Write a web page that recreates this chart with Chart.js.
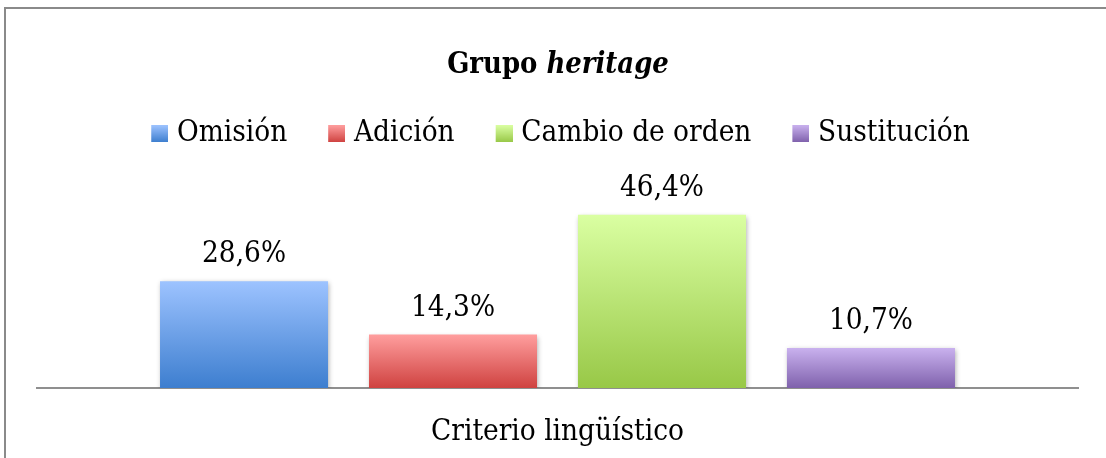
<!DOCTYPE html>
<html><head><meta charset="utf-8">
<script src="https://cdn.jsdelivr.net/npm/chart.js@4"></script>
<style>html,body{margin:0;padding:0;background:#fff}#wrap{width:1106px;height:458px;position:relative}canvas{display:block}</style>
</head><body><div id="wrap"><canvas id="c" width="1106" height="458"></canvas></div>
<script>
// ---- data ----
const categories = ['Criterio lingüístico'];
const seriesNames = ['Omisión', 'Adición', 'Cambio de orden', 'Sustitución'];
const omision = [28.6];
const adicion = [14.3];
const cambioDeOrden = [46.4];
const sustitucion = [10.7];
const titleMain = 'Grupo ';
const titleItalic = 'heritage';
const yMin = 0;
const yMax = 61.5;

// ---- styles ----
const gradients = [
  ['#9DC3FF', '#3D7ECF'],
  ['#FF9E9E', '#CF4240'],
  ['#DAFFA2', '#98C847'],
  ['#C9B1EE', '#7F61AC']
];

function hasFont(name) {
  const c = document.createElement('canvas').getContext('2d');
  c.font = '40px monospace';
  const a = c.measureText('Omisión Cambio de orden').width;
  c.font = '40px "' + name + '", monospace';
  const b = c.measureText('Omisión Cambio de orden').width;
  return Math.abs(a - b) > 0.5;
}
const COND = hasFont('DejaVu Serif Condensed');
const F = COND ? '"DejaVu Serif Condensed", "DejaVu Serif", serif' : '"DejaVu Serif", serif';
const K = COND ? 1.11 : 1.0;
const FS = 26.5 * K;
const TFS = 26 * K;

function legendIcon(g) {
  const c = document.createElement('canvas');
  c.width = 29; c.height = 17;
  const x = c.getContext('2d');
  const gr = x.createLinearGradient(0, 0, 0, 17);
  gr.addColorStop(0, g[0]); gr.addColorStop(1, g[1]);
  x.fillStyle = gr;
  x.fillRect(12, 0, 17, 17);
  return c;
}
const icons = gradients.map(legendIcon);

function barFill(i) {
  return function (context) {
    const chart = context.chart;
    const g = gradients[i];
    if (!chart.chartArea) return g[1];
    const ys = chart.scales.y;
    const v = context.raw;
    if (ys == null || v == null) return g[1];
    const top = ys.getPixelForValue(v);
    const bot = ys.getPixelForValue(0);
    if (!isFinite(top) || !isFinite(bot) || top === bot) return g[1];
    const gr = chart.ctx.createLinearGradient(0, top, 0, bot);
    gr.addColorStop(0, g[0]);
    gr.addColorStop(1, g[1]);
    return gr;
  };
}

const seriesData = [omision, adicion, cambioDeOrden, sustitucion];

const framePlugin = {
  id: 'frame',
  beforeDraw(chart) {
    const c = chart.ctx;
    c.save();
    c.fillStyle = '#fff';
    c.fillRect(0, 0, chart.width, chart.height);
    c.strokeStyle = '#8a8a8a';
    c.lineWidth = 2;
    c.beginPath();
    c.moveTo(5, chart.height);
    c.lineTo(5, 8);
    c.lineTo(chart.width, 8);
    c.stroke();
    c.restore();
  }
};

const titlePlugin = {
  id: 'mixedTitle',
  afterDraw(chart) {
    const c = chart.ctx;
    c.save();
    c.fillStyle = '#000';
    c.textBaseline = 'alphabetic';
    const f1 = 'bold ' + TFS + 'px ' + F;
    const f2 = 'italic bold ' + TFS + 'px ' + F;
    c.font = f1; const w1 = c.measureText(titleMain).width;
    c.font = f2; const w2 = c.measureText(titleItalic).width;
    const cx = 558;
    const x0 = cx - (w1 + w2) / 2;
    c.font = f1; c.textAlign = 'left'; c.fillText(titleMain, x0, 73);
    c.font = f2; c.fillText(titleItalic, x0 + w1, 73);
    c.restore();
  }
};

const shadowPlugin = {
  id: 'barShadow',
  beforeDatasetDraw(chart) {
    const c = chart.ctx;
    c.save();
    c.shadowColor = 'rgba(0,0,0,0.35)';
    c.shadowBlur = 5;
    c.shadowOffsetX = 1;
    c.shadowOffsetY = 2;
  },
  afterDatasetDraw(chart) {
    chart.ctx.restore();
  }
};

const valueLabels = {
  id: 'valueLabels',
  afterDatasetsDraw(chart) {
    const c = chart.ctx;
    c.save();
    c.fillStyle = '#000';
    c.font = FS + 'px ' + F;
    c.textAlign = 'center';
    c.textBaseline = 'alphabetic';
    chart.data.datasets.forEach((ds, i) => {
      const meta = chart.getDatasetMeta(i);
      meta.data.forEach((el, j) => {
        const v = ds.data[j];
        const txt = v.toFixed(1).replace('.', ',') + '%';
        c.fillText(txt, el.x, el.y - 19);
      });
    });
    c.restore();
  }
};

new Chart(document.getElementById('c').getContext('2d'), {
  type: 'bar',
  data: {
    labels: categories,
    datasets: seriesNames.map((n, i) => ({
      label: n,
      data: seriesData[i],
      backgroundColor: barFill(i),
      borderWidth: 0,
      categoryPercentage: 0.803,
      barPercentage: 0.804
    }))
  },
  options: {
    responsive: false,
    animation: false,
    devicePixelRatio: 1,
    layout: { padding: { left: 37, right: 28, top: 84, bottom: 0 } },
    plugins: {
      title: { display: false },
      tooltip: { enabled: false },
      legend: {
        position: 'top',
        labels: {
          usePointStyle: true,
          pointStyleWidth: 17,
          padding: 35,
          color: '#000',
          font: { family: F, size: FS },
          generateLabels(chart) {
            return chart.data.datasets.map((ds, i) => ({
              text: ds.label,
              pointStyle: icons[i],
              fillStyle: gradients[i][1],
              strokeStyle: 'transparent',
              lineWidth: 0,
              hidden: false,
              datasetIndex: i,
              fontColor: '#000'
            }));
          }
        }
      }
    },
    scales: {
      x: {
        grid: { display: false },
        border: { display: true, color: '#8f8f8f', width: 2 },
        ticks: { color: '#000', font: { family: F, size: FS }, padding: 19 },
        afterFit(s) { s.height = 70; }
      },
      y: { display: false, min: yMin, max: yMax }
    }
  },
  plugins: [framePlugin, shadowPlugin, valueLabels, titlePlugin]
});
</script>
</body></html>
